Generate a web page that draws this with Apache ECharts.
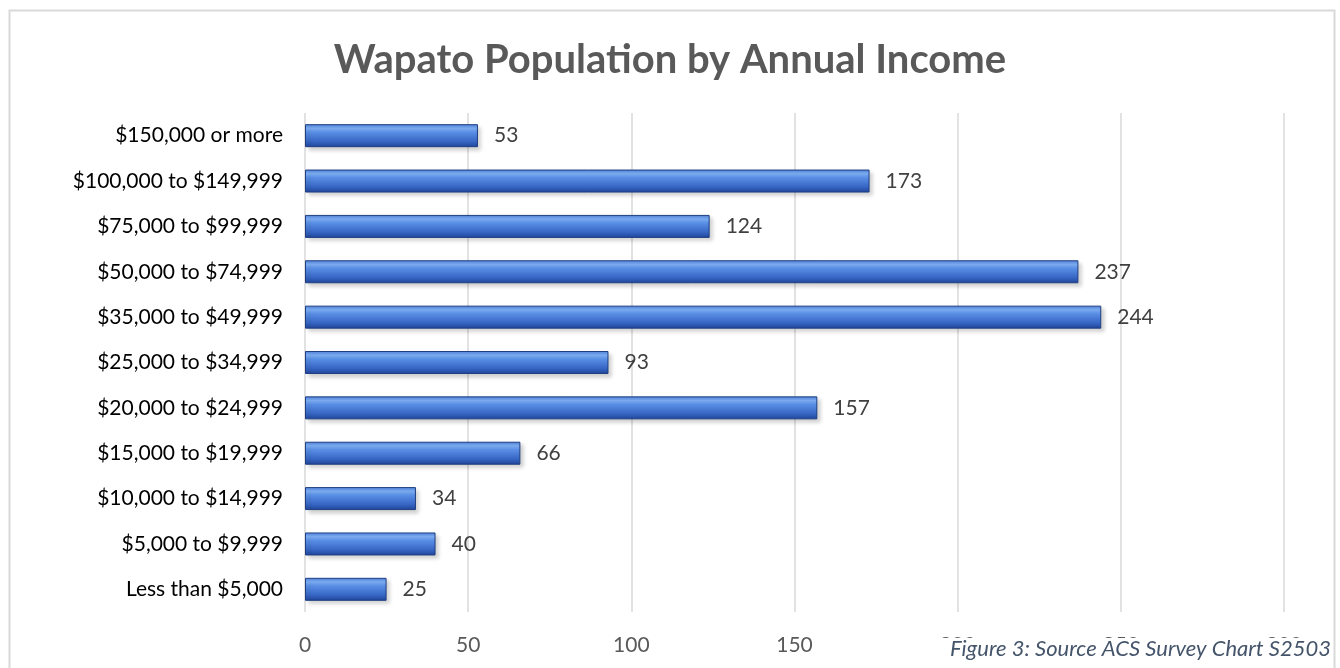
<!DOCTYPE html>
<html><head><meta charset="utf-8">
<script src="https://cdn.jsdelivr.net/npm/echarts@6/dist/echarts.min.js"></script>
<style>html,body{margin:0;padding:0;background:#fff}#c{width:1340px;height:668px}</style>
</head><body><div id="c"></div>
<script>
const categories = ["Less than $5,000","$5,000 to $9,999","$10,000 to $14,999","$15,000 to $19,999","$20,000 to $24,999","$25,000 to $34,999","$35,000 to $49,999","$50,000 to $74,999","$75,000 to $99,999","$100,000 to $149,999","$150,000 or more"];
const values = [25,40,34,66,157,93,244,237,124,173,53];
const titleText = "Wapato Population by Annual Income";
const captionText = "Figure 3: Source ACS Survey Chart S2503";
const xTicks = [0,50,100,150,200,250,300];

const chart = echarts.init(document.getElementById('c'));
const barColor = new echarts.graphic.LinearGradient(0,0,0,1,[
  {offset:0,color:'#4d80dc'},
  {offset:0.18,color:'#7fb0f5'},
  {offset:0.35,color:'#5a8fe6'},
  {offset:0.75,color:'#3766c4'},
  {offset:1,color:'#1f4499'}
]);
chart.setOption({
  animation:false,
  title:{text:titleText,left:'center',top:35,textStyle:{fontFamily:'Lato',fontSize:40,fontWeight:'bold',color:'#595959'}},
  grid:{left:305,right:56,top:113,bottom:56,containLabel:false},
  xAxis:{type:'value',min:xTicks[0],max:xTicks[xTicks.length-1],interval:50,
    axisLine:{show:false},axisTick:{show:false},
    splitLine:{lineStyle:{color:'#d9d9d9',width:1.5}},
    axisLabel:{color:'#595959',fontFamily:'Lato',fontSize:21,margin:23}},
  yAxis:{type:'category',data:categories,
    axisLine:{show:false},axisTick:{show:false},
    axisLabel:{color:'#000',fontFamily:'Lato',fontSize:21,margin:22}},
  series:[{type:'bar',data:values,barWidth:23,
    itemStyle:{color:barColor,borderColor:'#1f3f80',borderWidth:1,
      shadowColor:'rgba(0,0,0,0.18)',shadowBlur:4,shadowOffsetX:3,shadowOffsetY:3},
    label:{show:true,position:'right',distance:16,color:'#404040',fontFamily:'Lato',fontSize:21}}],
  graphic:[
    {type:'rect',left:7,top:8,shape:{width:1325,height:670},style:{fill:'none',stroke:'#d9d9d9',lineWidth:2},z:-1},
    {type:'rect',left:930,top:638,shape:{width:401,height:30},style:{fill:'#fff'},zlevel:1,z:100},
    {type:'text',right:9,top:638,style:{text:captionText,fill:'#44546a',font:'italic 22px Lato'},zlevel:1,z:101}
  ]
});
</script></body></html>
